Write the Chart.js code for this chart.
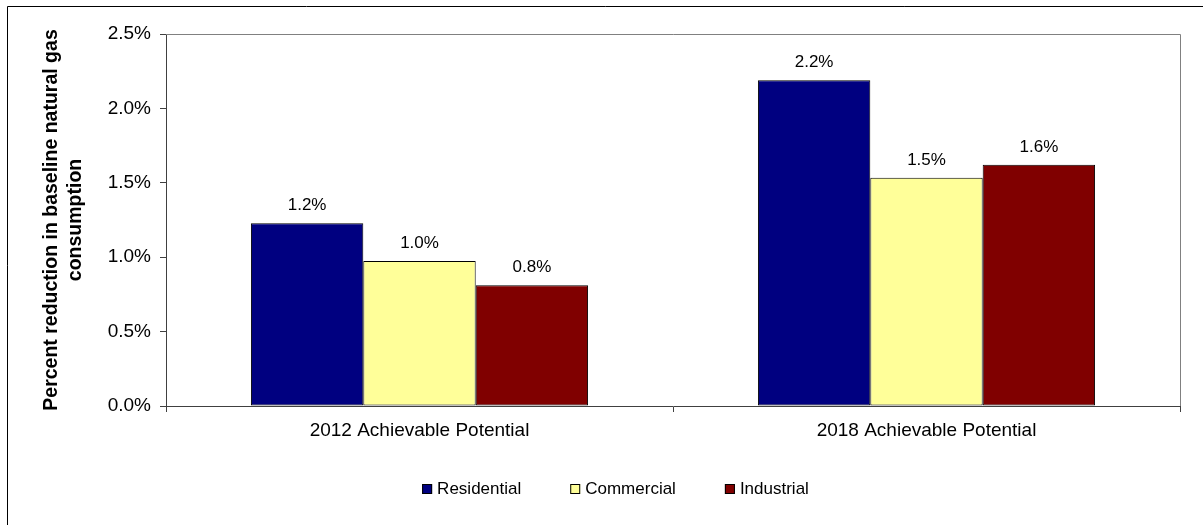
<!DOCTYPE html>
<html>
<head>
<meta charset="utf-8">
<script src="https://cdn.jsdelivr.net/npm/chart.js@4.4.0/dist/chart.umd.min.js"></script>
<style>
  html, body { margin: 0; padding: 0; background: #fff; overflow: hidden; }
  canvas { display: block; }
</style>
</head>
<body>
<canvas id="myChart" width="1203" height="525"></canvas>
<script>
// kategori dan nilai tiap sektor (dalam persen)
var categories = ['2012 Achievable Potential', '2018 Achievable Potential'];
var residential = [1.228, 2.189];
var commercial = [0.974, 1.534];
var industrial = [0.811, 1.622];
var seriesNames = ['Residential', 'Commercial', 'Industrial'];
var seriesColors = ['#000080', '#FFFF99', '#800000'];
var yTicks = [0, 0.5, 1.0, 1.5, 2.0, 2.5];

var FONT = "'Liberation Sans', Arial, sans-serif";

function pct(v) {
    return v.toFixed(1) + '%';
}

// bingkai luar, batas area plot dan label nilai di atas batang
var decorPlugin = {
    id: 'decor',
    beforeDatasetsDraw: function (chart) {
        var c = chart.ctx, a = chart.chartArea;
        c.save();
        c.strokeStyle = '#808080';
        c.lineWidth = 1;
        c.beginPath();
        c.moveTo(a.left, a.top + 0.5);
        c.lineTo(a.right + 0.5, a.top + 0.5);
        c.lineTo(a.right + 0.5, a.bottom);
        c.stroke();
        c.restore();
    },
    afterDraw: function (chart) {
        var c = chart.ctx;
        c.save();
        // bingkai luar
        c.strokeStyle = '#000';
        c.lineWidth = 1;
        c.beginPath();
        c.moveTo(7.5, 525);
        c.lineTo(7.5, 6.5);
        c.lineTo(1203, 6.5);
        c.stroke();

        // label nilai
        c.fillStyle = '#000';
        c.font = '17px ' + FONT;
        c.textAlign = 'center';
        c.textBaseline = 'alphabetic';
        chart.data.datasets.forEach(function (ds, i) {
            chart.getDatasetMeta(i).data.forEach(function (bar, j) {
                c.fillText(pct(ds.data[j]), bar.x, bar.y - 13);
            });
        });

        // legenda
        var legendY = 489;
        var box = 10, gap = 5, spacing = 49;
        c.font = '17px ' + FONT;
        c.textAlign = 'left';
        c.textBaseline = 'middle';
        var total = 0;
        chart.data.datasets.forEach(function (ds, i) {
            total += box + gap + c.measureText(ds.label).width;
            if (i > 0) total += spacing;
        });
        var x = 615.5 - total / 2;
        chart.data.datasets.forEach(function (ds) {
            c.fillStyle = ds.backgroundColor;
            c.fillRect(x, legendY - box / 2, box, box);
            c.strokeStyle = '#000';
            c.strokeRect(x + 0.5, legendY - box / 2 + 0.5, box - 1, box - 1);
            c.fillStyle = '#000';
            c.fillText(ds.label, x + box + gap, legendY);
            x += box + gap + c.measureText(ds.label).width + spacing;
        });
        c.restore();
    }
};

var ctx = document.getElementById('myChart');
var barchart = new Chart(ctx, {
    type: 'bar',
    data: {
        labels: categories,
        datasets: [residential, commercial, industrial].map(function (vals, i) {
            return {
                label: seriesNames[i],
                data: vals,
                backgroundColor: seriesColors[i],
                borderColor: '#000',
                borderWidth: 1,
                borderSkipped: false,
                categoryPercentage: 0.665,
                barPercentage: 1.0
            };
        })
    },
    options: {
        responsive: false,
        animation: false,
        layout: {
            padding: { left: 31, right: 23, top: 34, bottom: 89 }
        },
        plugins: {
            legend: { display: false },
            tooltip: { enabled: false }
        },
        scales: {
            x: {
                grid: {
                    offset: true,
                    drawOnChartArea: false,
                    drawTicks: true,
                    tickLength: 6,
                    color: '#404040'
                },
                border: { color: '#404040', width: 1 },
                ticks: {
                    color: '#000',
                    padding: 7,
                    font: { family: FONT, size: 19 }
                },
                afterFit: function (scale) { scale.height = 30; }
            },
            y: {
                min: 0,
                max: 2.5,
                afterBuildTicks: function (scale) {
                    scale.ticks = yTicks.map(function (v) { return { value: v }; });
                },
                grid: {
                    drawOnChartArea: false,
                    drawTicks: true,
                    tickLength: 6,
                    color: '#404040'
                },
                border: { color: '#404040', width: 1 },
                ticks: {
                    color: '#000',
                    padding: 9,
                    font: { family: FONT, size: 19 },
                    callback: function (v) { return pct(v); }
                },
                title: {
                    display: true,
                    text: ['Percent reduction in baseline natural gas', 'consumption'],
                    color: '#000',
                    font: { family: FONT, size: 19.5, weight: 'bold', lineHeight: 1.22 },
                    padding: { top: 9, bottom: 0 }
                },
                afterFit: function (scale) { scale.width = 166 - 31; }
            }
        }
    },
    plugins: [decorPlugin]
});
</script>
</body>
</html>
